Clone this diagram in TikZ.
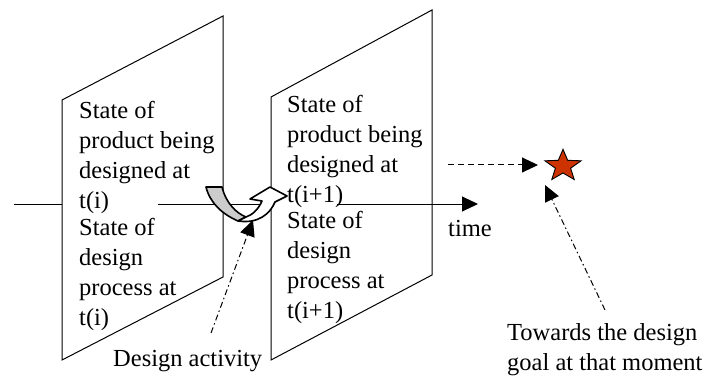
\documentclass[tikz,border=0pt]{standalone}
\usepackage{fontspec}
\setmainfont{Liberation Serif}
\usetikzlibrary{arrows.meta}
\begin{document}
\begin{tikzpicture}[x=1pt,y=-1pt,
  panel/.style={draw=black,line width=1pt,line join=miter},
  lbl/.style={anchor=base west,inner sep=0pt,align=left,font=\fontsize{24.5}{30}\selectfont},
  axis/.style={line width=1pt},
  bigtip/.style={-{Triangle[length=16pt,width=15pt]}},
  dashline/.style={line width=1pt,dash pattern=on 6pt off 4pt},
  dashdotline/.style={line width=1pt,dash pattern=on 6pt off 3pt on 1.5pt off 3pt},
  band/.style={draw=black,line width=1.6pt,line join=round},
  goalstar/.style={fill={rgb,255:red,204;green,51;blue,0},draw=black,line width=0.9pt,line join=miter}]
\useasboundingbox (0,0) rectangle (707,377);

% the two time slices
\draw[panel] (62,100) -- (223,16) -- (223,277) -- (62,360) -- cycle;
\draw[panel] (271,97) -- (432,10) -- (432,275) -- (271,360) -- cycle;

% time axis, broken where the slice texts sit on it
\coordinate (tstart) at (14,204);
\coordinate (p1left) at (62,204);
\coordinate (p1gap) at (158,204);
\coordinate (p2left) at (271,204);
\coordinate (p2gap) at (337,204);
\coordinate (tend) at (478,204);
\draw[axis] (tstart) -- (p1left);
\draw[axis] (p1gap) -- (p2left);
\draw[axis,bigtip] (p2gap) -- (tend);
\node[lbl] (time) at (448,236) {time};

% slice texts (placed by the baseline of their last line)
\node[lbl] (prod1) at (79,208) {State of\\product being\\designed at\\t(i)};
\node[lbl] (proc1) at (79,325) {State of\\design\\process at\\t(i)};
\node[lbl] (prod2) at (287,202) {State of\\product being\\designed at\\t(i+1)};
\node[lbl] (proc2) at (287,318) {State of\\design\\process at\\t(i+1)};

% design activity: curved arrow passing from one slice to the next
\draw[band,fill=black!20] (206,187) -- (222,187)
  .. controls (226,203) and (236,213) .. (246,217) -- (238,221)
  .. controls (222,214) and (210,203) .. (206,187) -- cycle;
\draw[band,fill=white] (238,221) .. controls (258,224) and (270,214) .. (275,202)
  -- (287,196) -- (270,187) -- (250,199) -- (262,201)
  .. controls (258,210) and (252,215) .. (246,217) -- cycle;

% goal star
\coordinate (goal) at (563,166);
\draw[goalstar] (563,149.3) -- (567.7,160.3) -- (581.1,160.8) -- (570.6,168.2)
  -- (574.2,179.5) -- (563,173.0) -- (551.8,179.5) -- (555.4,168.2)
  -- (544.9,160.8) -- (558.3,160.3) -- cycle;
\coordinate (dstart) at (448,165);
\coordinate (dend) at (538,165);
\draw[dashline,bigtip] (dstart) -- (dend);

\coordinate (gfrom) at (605,310);
\coordinate (gto) at (545,185);
\draw[dashdotline,bigtip] (gfrom) -- (gto);
\node[lbl] (towards) at (507,370) {Towards the design\\goal at that moment};

\coordinate (afrom) at (211,333);
\coordinate (ato) at (253,220);
\draw[dashdotline,bigtip] (afrom) -- (ato);
\node[lbl] (activity) at (113,366) {Design activity};
\end{tikzpicture}
\end{document}
